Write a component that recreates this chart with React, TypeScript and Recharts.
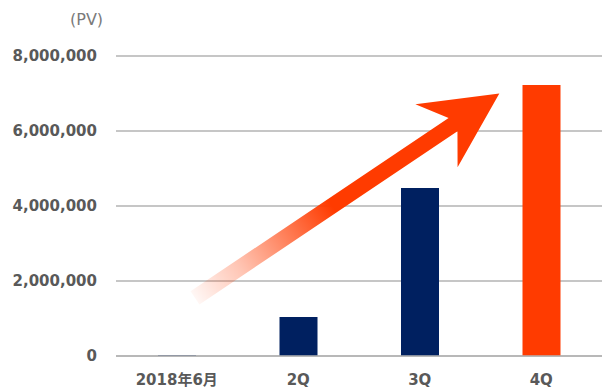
import { Bar, BarChart, CartesianGrid, Cell, ReferenceLine, XAxis, YAxis } from "recharts";

const CATEGORIES = ["2018年6月", "2Q", "3Q", "4Q"];
const PV = [20000, 1040000, 4480000, 7230000];
const BAR_COLORS = ["#002060", "#002060", "#002060", "#FF3B00"];
const Y_TICKS = [0, 2000000, 4000000, 6000000, 8000000];
// arrow annotation: runs from the first to the last category
const ARROW_FROM = 1550000;
const ARROW_TO = 7000000;

const RED = "#FF3B00";
const GRID = "#b3b3b3";
const TEXT = "#595959";

const data = CATEGORIES.map((c, i) => ({ name: c, pv: PV[i] }));

function ArrowShape(props: any) {
  const { x1, y1, x2, y2 } = props;
  const tx = x1 + (x2 - x1) * 0.05;
  const hx = x1 + (x2 - x1) * 0.885;
  const dx = hx - tx;
  const dy = y2 - y1;
  const len = Math.hypot(dx, dy);
  const ang = (Math.atan2(dy, dx) * 180) / Math.PI;
  const k = len / 368;
  const w = 8 * k;
  const pts = [
    [0, -w],
    [len - 56 * k, -w],
    [len - 76 * k, -38 * k],
    [len, 0],
    [len - 76 * k, 38 * k],
    [len - 56 * k, w],
    [0, w],
  ]
    .map((p) => p.join(","))
    .join(" ");
  return (
    <g transform={`translate(${tx},${y1}) rotate(${ang})`}>
      <defs>
        <linearGradient id="arrowFade" gradientUnits="userSpaceOnUse" x1="0" y1="0" x2={len} y2="0">
          <stop offset="0" stopColor={RED} stopOpacity={0.04} />
          <stop offset="0.15" stopColor={RED} stopOpacity={0.3} />
          <stop offset="0.45" stopColor={RED} stopOpacity={1} />
          <stop offset="1" stopColor={RED} stopOpacity={1} />
        </linearGradient>
      </defs>
      <polygon points={pts} fill="url(#arrowFade)" />
    </g>
  );
}

export default function App() {
  return (
    <div style={{ position: "absolute", left: 0, top: 0, width: 602, height: 388, background: "#fff" }}>
      <div
        style={{
          position: "absolute",
          left: 70,
          top: 10,
          fontSize: 16,
          lineHeight: "20px",
          color: "#7a7a7a",
          fontFamily: "'DejaVu Sans', sans-serif",
        }}
      >
        (PV)
      </div>
      <BarChart width={602} height={388} data={data} margin={{ top: 56, right: 0, bottom: 0, left: 0 }}>
        <CartesianGrid vertical={false} stroke={GRID} strokeWidth={1.3} />
        <XAxis
          dataKey="name"
          height={32}
          tickLine={false}
          tickSize={0}
          tickMargin={18}
          axisLine={{ stroke: GRID, strokeWidth: 1.3 }}
          tick={{ fill: TEXT, fontSize: 15, fontWeight: "bold", fontFamily: "'DejaVu Sans', 'Noto Sans CJK JP', sans-serif" }}
        />
        <YAxis
          width={116}
          domain={[0, 8000000]}
          ticks={Y_TICKS}
          axisLine={false}
          tickLine={false}
          tickSize={0}
          tickMargin={19}
          tickFormatter={(v: number) => v.toLocaleString("en-US")}
          tick={{ fill: TEXT, fontSize: 15, fontWeight: "bold", fontFamily: "'DejaVu Sans', sans-serif" }}
        />
        <Bar dataKey="pv" barSize={38} isAnimationActive={false}>
          {data.map((d, i) => (
            <Cell key={d.name} fill={BAR_COLORS[i]} />
          ))}
        </Bar>
        <ReferenceLine
          segment={[
            { x: CATEGORIES[0], y: ARROW_FROM },
            { x: CATEGORIES[3], y: ARROW_TO },
          ]}
          shape={ArrowShape}
        />
      </BarChart>
    </div>
  );
}
